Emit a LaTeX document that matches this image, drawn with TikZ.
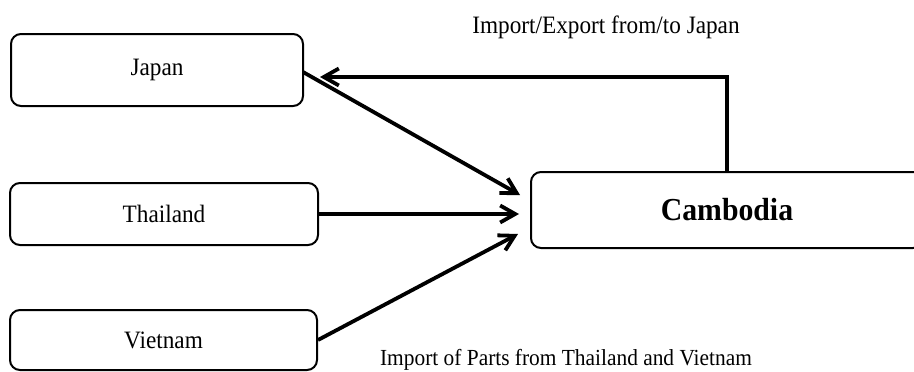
\documentclass[tikz,border=0pt]{standalone}
\usepackage{fontspec}
\setmainfont{Liberation Serif}[FakeStretch=0.93]
\usetikzlibrary{arrows.meta}

\begin{document}
\begin{tikzpicture}[%
        x = 1pt, y = -1pt,
        country/.style = {draw, line width=2pt, rounded corners=10pt,
            font=\fontsize{25}{28}\selectfont},
        flow/.style = {line width=3.8pt,
            -{Straight Barb[length=15pt,width=17pt,line width=3.8pt]}}
    ]
      \useasboundingbox (0,0) rectangle (914,372);
      \clip (0,0) rectangle (914,372);
      % trading partners
      \node[country, minimum width=292pt, minimum height=72pt] (japan) at (157,70) {Japan};
      \node[country, minimum width=308pt, minimum height=62pt] (thailand) at (164,214) {Thailand};
      \node[country, minimum width=307pt, minimum height=60pt] (vietnam) at (163.5,340) {Vietnam};
      \node[country, minimum width=392pt, minimum height=76pt,
            font=\fontsize{32}{35}\selectfont\bfseries] (cambodia) at (727,210) {Cambodia};
      % arrow tips in front of Cambodia, and back at Japan
      \coordinate (inA) at (520,195);
      \coordinate (inB) at (519,214);
      \coordinate (inC) at (518,234);
      \coordinate (back) at (320,77);
      \draw[flow] (303,72) -- (inA);
      \draw[flow] (thailand.east) -- (inB);
      \draw[flow] (vietnam.east) -- (inC);
      \draw[flow, rounded corners=0pt] (cambodia.north) |- (back);
      % labels
      \node[anchor=base, font=\fontsize{25}{28}\selectfont] (trade) at (606,33) {Import/Export from/to Japan};
      \node[anchor=base, font=\fontsize{23}{26}\selectfont] (parts) at (566,365) {Import of Parts from Thailand and Vietnam};
    \end{tikzpicture}
\end{document}
